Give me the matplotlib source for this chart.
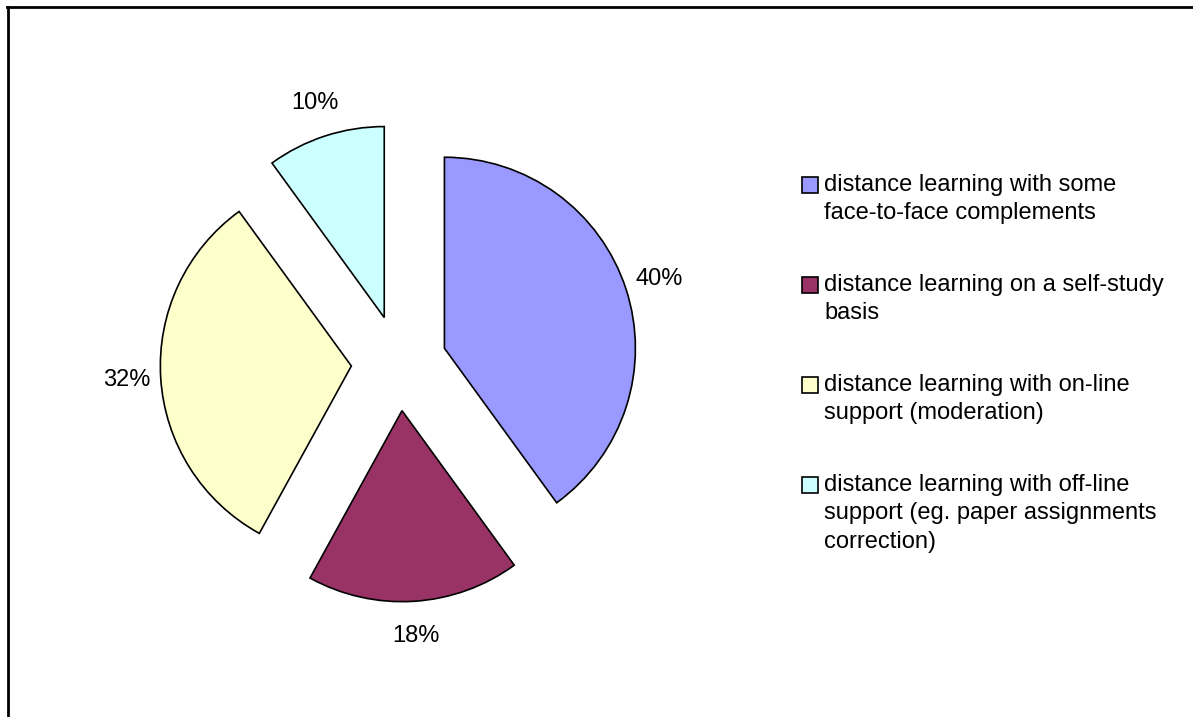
import matplotlib
matplotlib.use("Agg")
import matplotlib.pyplot as plt
from matplotlib.lines import Line2D
from matplotlib.patches import Rectangle

plt.rcParams['font.family'] = ['Liberation Sans', 'DejaVu Sans']

# shares of each distance-learning mode, in percent
shares = [40, 18, 32, 10]
categories = [
    "distance learning with some\nface-to-face complements",
    "distance learning on a self-study\nbasis",
    "distance learning with on-line\nsupport (moderation)",
    "distance learning with off-line\nsupport (eg. paper assignments\ncorrection)",
]
colors = ["#9999FF", "#993366", "#FFFFCC", "#CCFFFF"]

W, H = 1193, 717
cx, cy, r = 399, 363, 191   # pie centre and radius in pixels

fig = plt.figure(figsize=(W / 100, H / 100), dpi=100)
ax = fig.add_axes([0, 0, 1, 1])

wedges, texts, autotexts = ax.pie(
    shares, colors=colors, startangle=90, counterclock=False,
    explode=[0.25] * len(shares), radius=1,
    autopct='%1.0f%%', pctdistance=1.18,
    wedgeprops=dict(edgecolor='black', linewidth=1.2),
    textprops=dict(fontsize=17, color='black'),
)

# axis units = pie radius, so the pie lands where it should in pixels
ax.set_xlim(-cx / r, (W - cx) / r)
ax.set_ylim(-(H - cy) / r, cy / r)
ax.set_aspect('equal', adjustable='box')
ax.axis('off')

# legend, one square per entry aligned with the first text line
leg_x, leg_top, leg_step = 824, 175, 100
for i, (lab, col) in enumerate(zip(categories, colors)):
    top = leg_top + i * leg_step
    fig.patches.append(Rectangle(((leg_x - 22) / W, 1 - (top + 18) / H), 16 / W, 16 / H,
                                 transform=fig.transFigure, facecolor=col,
                                 edgecolor='black', linewidth=1.2))
    fig.text(leg_x / W, 1 - (top - 1) / H, lab, fontsize=17, va='top', ha='left',
             linespacing=1.38)

# frame on top and left edges
fig.lines.append(Line2D([7 / W, 1], [1 - 7 / H, 1 - 7 / H], transform=fig.transFigure,
                        color='black', linewidth=2))
fig.lines.append(Line2D([8 / W, 8 / W], [0, 1 - 7 / H], transform=fig.transFigure,
                        color='black', linewidth=2))

fig.savefig("out.png", dpi=100, facecolor='white')
